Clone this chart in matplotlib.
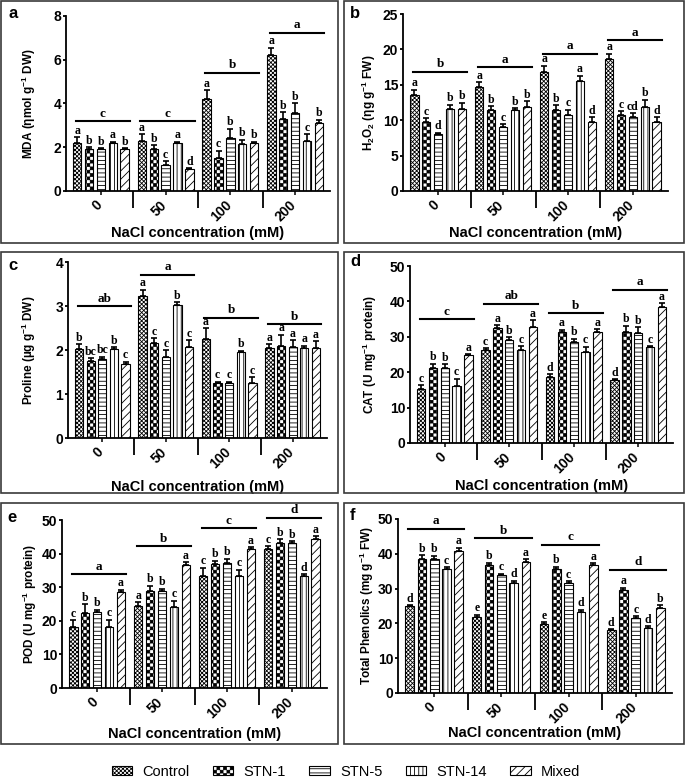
import numpy as np
import matplotlib
matplotlib.use("Agg")
import matplotlib.pyplot as plt
import matplotlib.hatch as mhatch
import matplotlib.transforms as mtrans
from matplotlib.path import Path
from matplotlib.patches import Patch, Rectangle


# checkerboard hatch (filled squares), used through the letter 'O'
class CheckerHatch(mhatch.HatchPatternBase):
    def __init__(self, hatch, density):
        n = hatch.count('O') * density
        self.n = n - n % 2
        self.num_vertices = (self.n * self.n // 2) * 5

    def set_vertices_and_codes(self, vertices, codes):
        s = 1.0 / self.n
        d = 0.003
        k = 0
        for i in range(self.n):
            for j in range(self.n):
                if (i + j) % 2:
                    continue
                x0, y0 = i * s + d, j * s + d
                x1, y1 = (i + 1) * s - d, (j + 1) * s - d
                vertices[k:k + 5] = [(x0, y0), (x1, y0), (x1, y1), (x0, y1), (x0, y0)]
                codes[k:k + 5] = [Path.MOVETO, Path.LINETO, Path.LINETO,
                                  Path.LINETO, Path.CLOSEPOLY]
                k += 5


mhatch._hatch_types = [t for t in mhatch._hatch_types
                       if t is not mhatch.LargeCircles] + [CheckerHatch]

plt.rcParams['font.family'] = ['Liberation Sans', 'DejaVu Sans']
plt.rcParams['font.weight'] = 'bold'
plt.rcParams['mathtext.fontset'] = 'custom'
plt.rcParams['mathtext.bf'] = 'Liberation Sans:bold'
plt.rcParams['mathtext.rm'] = 'Liberation Sans:bold'
plt.rcParams['mathtext.default'] = 'bf'
plt.rcParams['hatch.linewidth'] = 0.6

# ---------------- data ----------------
treatments = ['Control', 'STN-1', 'STN-5', 'STN-14', 'Mixed']
hatches = ['xxxxxxxx', 'OOOOO', '----', '||||', '////']
nacl = ['0', '50', '100', '200']

# MDA
mda = [[2.2, 1.9, 1.9, 2.2, 1.9], [2.3, 1.9, 1.2, 2.2, 1.0],
       [4.2, 1.5, 2.4, 2.15, 2.2], [6.2, 3.3, 3.55, 2.3, 3.1]]
mda_err = [[0.25, 0.1, 0.05, 0.05, 0.05], [0.3, 0.2, 0.15, 0.05, 0.05],
           [0.4, 0.35, 0.45, 0.2, 0.05], [0.35, 0.3, 0.45, 0.3, 0.15]]
mda_let = [['a', 'b', 'b', 'a', 'b'], ['a', 'b', 'c', 'a', 'd'],
           ['a', 'c', 'b', 'b', 'b'], ['a', 'b', 'b', 'c', 'b']]
mda_grp = ['c', 'c', 'b', 'a']
mda_grp_y = [3.2, 3.2, 5.4, 7.24]

# H2O2
h2o2 = [[13.6, 9.7, 8.1, 11.6, 11.6], [14.7, 11.5, 9.0, 11.5, 11.9],
        [16.8, 11.5, 10.8, 15.6, 9.8], [18.6, 10.7, 10.5, 11.9, 9.8]]
h2o2_err = [[0.7, 0.6, 0.15, 0.6, 0.9], [0.7, 0.5, 0.4, 0.2, 0.8],
            [0.9, 0.6, 0.7, 0.7, 0.6], [0.8, 0.6, 0.5, 1.0, 0.6]]
h2o2_let = [['a', 'c', 'd', 'b', 'b'], ['a', 'b', 'c', 'b', 'b'],
            ['a', 'b', 'c', 'a', 'd'], ['a', 'c', 'cd', 'b', 'd']]
h2o2_grp = ['b', 'a', 'a', 'a']
h2o2_grp_y = [16.85, 17.5, 19.4, 21.3]

# Proline
pro = [[2.03, 1.74, 1.8, 2.03, 1.68], [3.22, 2.15, 1.85, 3.03, 2.07],
       [2.25, 1.25, 1.25, 1.96, 1.25], [2.05, 2.1, 2.07, 2.05, 2.05]]
pro_err = [[0.1, 0.08, 0.05, 0.03, 0.05], [0.15, 0.12, 0.15, 0.05, 0.15],
           [0.25, 0.03, 0.03, 0.02, 0.13], [0.08, 0.25, 0.15, 0.05, 0.15]]
pro_let = [['b', 'bc', 'bc', 'b', 'c'], ['a', 'c', 'c', 'b', 'c'],
           ['a', 'c', 'c', 'b', 'c'], ['a', 'a', 'a', 'a', 'a']]
pro_grp = ['ab', 'a', 'b', 'b']
pro_grp_y = [3.0, 3.71, 2.73, 2.59]

# CAT
cat = [[15.3, 21.2, 21.3, 16.2, 24.8], [26.2, 32.5, 29.2, 26.4, 32.7],
       [18.7, 31.3, 28.5, 25.7, 31.3], [17.8, 31.4, 31.2, 27.1, 38.5]]
cat_err = [[1.0, 1.2, 1.0, 2.0, 0.3], [0.5, 0.8, 0.7, 1.0, 2.0],
           [0.7, 0.7, 1.0, 1.5, 0.8], [0.3, 1.7, 1.5, 0.3, 1.0]]
cat_let = [['c', 'b', 'b', 'c', 'a'], ['c', 'a', 'b', 'c', 'a'],
           ['d', 'a', 'b', 'c', 'a'], ['d', 'b', 'b', 'c', 'a']]
cat_grp = ['c', 'ab', 'b', 'a']
cat_grp_y = [35.0, 39.4, 36.6, 43.3]

# POD
pod = [[18.2, 22.3, 22.6, 18.3, 28.7], [24.4, 28.9, 28.8, 24.2, 36.6],
       [33.3, 37.0, 37.3, 33.2, 41.5], [41.5, 43.3, 43.2, 33.4, 44.4]]
pod_err = [[2.0, 2.7, 0.7, 2.0, 0.6], [1.2, 1.6, 0.8, 1.8, 0.8],
           [2.5, 0.9, 1.2, 2.0, 0.4], [0.7, 1.0, 0.5, 0.4, 0.8]]
pod_let = [['c', 'b', 'b', 'c', 'a'], ['a', 'b', 'b', 'c', 'a'],
           ['c', 'b', 'b', 'c', 'a'], ['c', 'b', 'b', 'd', 'a']]
pod_grp = ['a', 'b', 'c', 'd']
pod_grp_y = [33.8, 42.2, 47.5, 50.7]

# Total phenolics
phe = [[24.9, 38.6, 38.6, 35.5, 40.8], [21.7, 36.7, 34.0, 31.7, 37.7],
       [19.7, 35.7, 31.6, 23.4, 36.7], [18.0, 29.6, 21.5, 18.7, 24.5]]
phe_err = [[0.4, 1.0, 0.8, 0.7, 0.9], [0.8, 0.8, 0.3, 0.6, 0.7],
           [0.7, 0.6, 0.5, 0.5, 0.6], [0.3, 0.7, 0.6, 0.5, 0.7]]
phe_let = [['d', 'b', 'b', 'c', 'a'], ['e', 'b', 'c', 'd', 'a'],
           ['e', 'b', 'c', 'd', 'a'], ['d', 'a', 'c', 'd', 'b']]
phe_grp = ['a', 'b', 'c', 'd']
phe_grp_y = [47.2, 44.5, 42.6, 35.4]

W, H = 685, 779
fig = plt.figure(figsize=(W / 100, H / 100), dpi=100)

# panel: tag, data, yticks, ylabel, axes px (l, r, top, bottom), ylabel dx, xlabel dy, tag pos
panels = [
    ('a', mda, mda_err, mda_let, mda_grp, mda_grp_y, [0, 2, 4, 6, 8],
     'MDA (ηmol g$^{-1}$ DW)', (66, 330, 16, 191), 37, 42, (13, 13)),
    ('b', h2o2, h2o2_err, h2o2_let, h2o2_grp, h2o2_grp_y, [0, 5, 10, 15, 20, 25],
     'H$_2$O$_2$ (ηg g$^{-1}$ FW)', (403, 668, 14, 191), 34, 42, (355, 13)),
    ('c', pro, pro_err, pro_let, pro_grp, pro_grp_y, [0, 1, 2, 3, 4],
     'Proline (µg g$^{-1}$ DW)', (68, 327, 262, 438), 39, 49, (13, 265)),
    ('d', cat, cat_err, cat_let, cat_grp, cat_grp_y, [0, 10, 20, 30, 40, 50],
     'CAT (U mg$^{-1}$ protein)', (410, 673, 266, 443), 40, 43, (355, 262)),
    ('e', pod, pod_err, pod_let, pod_grp, pod_grp_y, [0, 10, 20, 30, 40, 50],
     'POD (U mg$^{-1}$ protein)', (62, 327, 520, 688), 32, 46, (12, 517)),
    ('f', phe, phe_err, phe_let, phe_grp, phe_grp_y, [0, 10, 20, 30, 40, 50],
     'Total Phenolics (mg g$^{-1}$ FW)', (398, 672, 519, 693), 31, 40, (353, 516)),
]

# panel frames
frames = [(1, 338, 1, 243), (344, 684, 1, 243), (1, 338, 252, 493),
          (344, 684, 252, 493), (1, 338, 503, 744), (344, 684, 503, 744)]
for (x0, x1, y0, y1) in frames:
    fig.add_artist(Rectangle((x0 / W, 1 - y1 / H), (x1 - x0) / W, (y1 - y0) / H,
                             transform=fig.transFigure, fill=False,
                             edgecolor='#3a3a3a', linewidth=1.2))

offsets = (np.arange(5) - 2) * 0.183
bw = 0.13
shift = mtrans.ScaledTranslation(0.04, 0, fig.dpi_scale_trans)

for (tag, vals, errs, lets, grp, grp_y, yt, ylab, (l, r, t, b),
     ydx, xdy, tpos) in panels:
    ax = fig.add_axes([l / W, 1 - b / H, (r - l) / W, (b - t) / H])
    vals = np.array(vals)
    errs = np.array(errs)
    for j in range(5):
        x = np.arange(4) + 0.5 + offsets[j]
        ax.bar(x, vals[:, j], bw, facecolor='white', edgecolor='black',
               hatch=hatches[j], linewidth=0.8, zorder=2)
        ax.errorbar(x, vals[:, j], yerr=[np.zeros(4), errs[:, j]], fmt='none',
                    ecolor='black', elinewidth=1.2, capsize=2, capthick=1.2, zorder=3)
        for i in range(4):
            ax.annotate(lets[i][j], (x[i], vals[i, j] + errs[i, j]),
                        xytext=(0, 0.3), textcoords='offset points',
                        ha='center', va='bottom', fontsize=8.5,
                        family='Liberation Serif', fontweight='bold',
                        annotation_clip=False)
    for i in range(4):
        ax.plot([i + 0.11, i + 0.95], [grp_y[i], grp_y[i]], color='black',
                lw=1.5, clip_on=False, zorder=3)
        ax.annotate(grp[i], (i + 0.53, grp_y[i]), xytext=(0, 1),
                    textcoords='offset points', ha='center', va='bottom',
                    fontsize=9.5, family='Liberation Serif', fontweight='bold',
                    annotation_clip=False)

    ax.set_xlim(-0.04, 4.04)
    ax.set_ylim(0, yt[-1])
    ax.set_yticks(yt)
    ax.spines['top'].set_visible(False)
    ax.spines['right'].set_visible(False)
    ax.spines['left'].set_linewidth(1.3)
    ax.spines['bottom'].set_linewidth(1.3)
    ax.tick_params(axis='y', length=2.5, width=1.3, labelsize=10, pad=1)
    ax.set_xticks([1, 2, 3])
    ax.set_xticklabels([])
    ax.tick_params(axis='x', which='major', length=12, width=1.3)
    ax.set_xticks(np.arange(4) + 0.5, minor=True)
    ax.set_xticklabels(nacl, minor=True, rotation=45, ha='right', fontsize=10)
    ax.tick_params(axis='x', which='minor', length=3, width=1.1, pad=2)
    for lab in ax.get_xticklabels(minor=True):
        lab.set_transform(lab.get_transform() + shift)
    for lab in ax.get_yticklabels():
        lab.set_fontweight('bold')

    ax.set_ylabel(ylab, fontsize=8.5, fontweight='bold')
    ax.yaxis.set_label_coords(-ydx / (r - l), 0.5)
    ax.yaxis.label.set_va('center')
    ax.set_xlabel('NaCl concentration (mM)', fontsize=10.5, fontweight='bold')
    ax.xaxis.set_label_coords(0.5, -xdy / (b - t))
    ax.xaxis.label.set_va('center')

    fig.text(tpos[0] / W, 1 - tpos[1] / H, tag, fontsize=12, fontweight='bold',
             ha='center', va='center')

handles = [Patch(facecolor='white', edgecolor='black', hatch=h, linewidth=0.8)
           for h in hatches]
fig.legend(handles, treatments, loc='center', bbox_to_anchor=(0.505, 1 - 772 / H),
           ncol=5, frameon=False, handlelength=1.4, handleheight=0.6,
           handletextpad=0.7, columnspacing=1.6,
           prop={'family': 'Liberation Sans', 'weight': 'normal', 'size': 10.5})

fig.savefig('out.png', dpi=100)
